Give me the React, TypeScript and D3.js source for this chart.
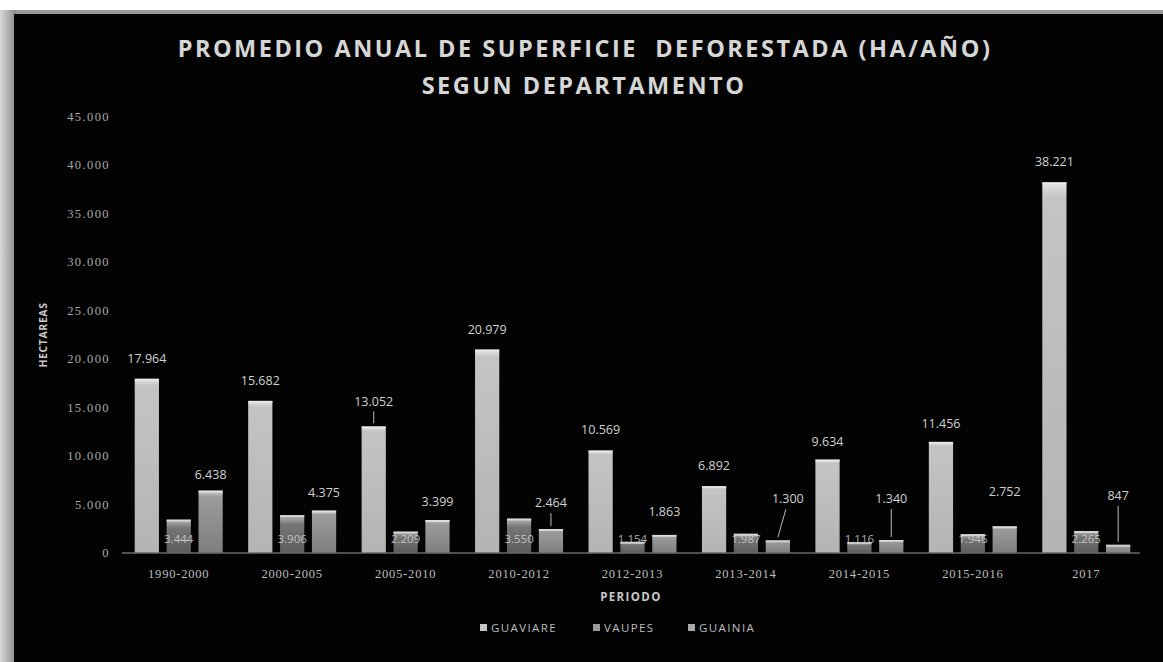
import React from "react";
import * as d3 from "d3";

const periods = ["1990-2000", "2000-2005", "2005-2010", "2010-2012", "2012-2013", "2013-2014", "2014-2015", "2015-2016", "2017"];
const seriesNames = ["GUAVIARE", "VAUPES", "GUAINIA"];
const guaviare = [17964, 15682, 13052, 20979, 10569, 6892, 9634, 11456, 38221];
const vaupes = [3444, 3906, 2209, 3550, 1154, 1987, 1116, 1946, 2265];
const guainia = [6438, 4375, 3399, 2464, 1863, 1300, 1340, 2752, 847];
const yTicks = [0, 5000, 10000, 15000, 20000, 25000, 30000, 35000, 40000, 45000];

// label lift (px above bar top) for guainia labels, and whether a leader line is drawn
const guainiaLift = [12, 14, 14, 22, 19, 37, 37, 30, 45];
const guainiaLeader = [false, false, false, true, false, true, true, false, true];
const guaviareLift = [16, 16, 20, 16, 16, 16, 14, 14, 16];

const W = 1163;
const H = 662;

const fmt = (v: number) => d3.format(",")(v).replace(/,/g, ".");

export default function App() {
  const x0 = d3.scaleBand<string>().domain(periods).range([122, 1143]).padding(0);
  const x1 = d3.scaleBand<string>().domain(seriesNames).range([-44, 44]).paddingInner(0.24).paddingOuter(0);
  const y = d3.scaleLinear().domain([0, 45000]).range([553, 116.5]);
  const bw = x1.bandwidth();
  const data = [guaviare, vaupes, guainia];
  const fills = ["url(#gGua)", "url(#gVau)", "url(#gGuai)"];
  const legendFills = ["#c4c4c4", "#9a9a9a", "#a8a8a8"];
  const labelFont = "'Open Sans', sans-serif";
  const tickFont = "'Liberation Serif', serif";

  return (
    <svg width={W} height={H} style={{ position: "fixed", left: 0, top: 0, display: "block" }}>
      <defs>
        <linearGradient id="gGua" x1="0" y1="0" x2="0" y2="1">
          <stop offset="0" stopColor="#e6e6e6" />
          <stop offset="0.04" stopColor="#c4c4c4" />
          <stop offset="1" stopColor="#b4b4b4" />
        </linearGradient>
        <linearGradient id="gVau" x1="0" y1="0" x2="0" y2="1">
          <stop offset="0" stopColor="#b8b8b8" />
          <stop offset="0.25" stopColor="#767676" />
          <stop offset="1" stopColor="#5c5c5c" />
        </linearGradient>
        <linearGradient id="gGuai" x1="0" y1="0" x2="0" y2="1">
          <stop offset="0" stopColor="#d4d4d4" />
          <stop offset="0.1" stopColor="#9c9c9c" />
          <stop offset="1" stopColor="#7e7e7e" />
        </linearGradient>
        <linearGradient id="gEdge" x1="0" y1="0" x2="1" y2="0">
          <stop offset="0" stopColor="#d8d8d8" />
          <stop offset="1" stopColor="#8a8a8a" />
        </linearGradient>
      </defs>
      <rect x={0} y={0} width={W} height={H} fill="#ffffff" />
      <rect x={0} y={10} width={W} height={H - 10} fill="#9a9a9a" />
      <rect x={0} y={10} width={16} height={H - 10} fill="url(#gEdge)" />
      <rect x={14} y={14} width={W - 14} height={H - 14} fill="#030303" />

      {/* Title */}
      <text x={585} y={57} textAnchor="middle" fill="#d6d6d6" fontFamily={labelFont} fontWeight={700} fontSize={23.5} letterSpacing={2.5}>
        {"PROMEDIO ANUAL DE SUPERFICIE\u00a0 DEFORESTADA (HA/AÑO)"}
      </text>
      <text x={584} y={94} textAnchor="middle" fill="#d6d6d6" fontFamily={labelFont} fontWeight={700} fontSize={23.5} letterSpacing={2.5}>
        SEGUN DEPARTAMENTO
      </text>

      {/* Y axis labels */}
      {yTicks.map((t) => (
        <text key={t} x={110} y={y(t)} dy="0.35em" textAnchor="end" fill="#a8a8a8" fontFamily={tickFont} fontSize={12.5} letterSpacing={1.4}>
          {fmt(t)}
        </text>
      ))}
      <text transform={`translate(47,335) rotate(-90)`} textAnchor="middle" fill="#c8c8c8" fontFamily={labelFont} fontWeight={700} fontSize={10.5} letterSpacing={0.6}>
        HECTAREAS
      </text>

      {/* Bars */}
      {periods.map((p, i) => (
        <g key={p} transform={`translate(${(x0(p) ?? 0) + x0.bandwidth() / 2},0)`}>
          {seriesNames.map((s, k) => {
            const v = data[k][i];
            const bx = x1(s) ?? 0;
            return (
              <g key={s}>
                <rect x={bx} y={y(v)} width={bw} height={y(0) - y(v)} fill={fills[k]} />
                <rect x={bx} y={y(v)} width={bw} height={2} fill="#eeeeee" opacity={0.6} />
              </g>
            );
          })}
        </g>
      ))}

      {/* baseline */}
      <line x1={122} x2={1140} y1={y(0)} y2={y(0)} stroke="#6a6a6a" strokeWidth={1.5} />

      {/* Labels */}
      {periods.map((p, i) => {
        const cx = (x0(p) ?? 0) + x0.bandwidth() / 2;
        const gX = cx + (x1("GUAVIARE") ?? 0) + bw / 2;
        const vX = cx + (x1("VAUPES") ?? 0) + bw / 2;
        const nX = cx + (x1("GUAINIA") ?? 0) + bw / 2;
        const gy = y(guaviare[i]) - guaviareLift[i];
        const ny = y(guainia[i]) - guainiaLift[i];
        return (
          <g key={p}>
            <text x={gX} y={gy} textAnchor="middle" fill="#d0d0d0" fontFamily={labelFont} fontSize={12.5}>
              {fmt(guaviare[i])}
            </text>
            {i === 2 && <line x1={gX} x2={gX} y1={gy + 5} y2={y(guaviare[i]) - 3} stroke="#bbb" strokeWidth={1} />}
            <text x={vX} y={y(0) - 10} textAnchor="middle" fill="#d8d8d8" fontFamily={labelFont} fontSize={11.5} opacity={0.8}>
              {fmt(vaupes[i])}
            </text>
            <text x={nX + (i === 5 ? 10 : 0)} y={ny} textAnchor="middle" fill="#d0d0d0" fontFamily={labelFont} fontSize={12.5}>
              {fmt(guainia[i])}
            </text>
            {guainiaLeader[i] && (
              <line x1={nX + (i === 5 ? 8 : 0)} x2={nX} y1={ny + 6} y2={y(guainia[i]) - 3} stroke="#bbb" strokeWidth={1} />
            )}
            <text x={cx} y={574} dy="0.35em" textAnchor="middle" fill="#bdbdbd" fontFamily={tickFont} fontSize={12.5} letterSpacing={0.8}>
              {p}
            </text>
          </g>
        );
      })}

      {/* X axis title */}
      <text x={631} y={597} dy="0.35em" textAnchor="middle" fill="#c8c8c8" fontFamily={labelFont} fontWeight={700} fontSize={11.5} letterSpacing={1.4}>
        PERIODO
      </text>

      {/* Legend */}
      {seriesNames.map((s, k) => {
        const lx = [480, 593, 688][k];
        return (
          <g key={s}>
            <rect x={lx} y={624} width={7} height={7} fill={legendFills[k]} />
            <text x={lx + 11} y={628} dy="0.35em" fill="#bdbdbd" fontFamily={labelFont} fontSize={11.5} letterSpacing={1.4}>
              {s}
            </text>
          </g>
        );
      })}
    </svg>
  );
}
